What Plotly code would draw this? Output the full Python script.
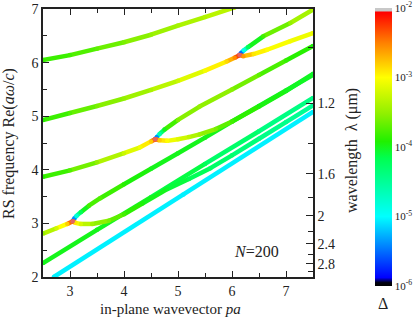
# RS frequency vs in-plane wavevector, N=200
# Branches are coloured by log10(Delta); each branch is drawn as short line
# segments (colour sampled from the colour scale) plus joint markers that
# feed the shared colour axis / colour bar.

import math
import plotly.graph_objects as go
from plotly.colors import sample_colorscale

# ---- data: x = pa, y = Re(a*omega/c), d = log10(Delta) ----
# top curve
A_X = [2.5, 3.0, 3.5, 4.0, 4.5, 5.0, 5.5, 6.05]
A_Y = [6.05, 6.14, 6.26, 6.38, 6.52, 6.69, 6.85, 7.03]
A_D = [-3.85, -3.8, -3.7, -3.6, -3.5, -3.42, -3.36, -3.3]

# curve running into the branch point near pa=6.14
B_X = [2.5, 3.0, 3.5, 4.0, 4.5, 5.0, 5.5, 5.9, 6.05, 6.14]
B_Y = [4.93, 5.06, 5.19, 5.33, 5.49, 5.66, 5.85, 6.02, 6.09, 6.14]
B_D = [-3.9, -3.75, -3.6, -3.5, -3.4, -3.25, -3.05, -2.85, -2.55, -2.05]

U2_X = [6.14, 6.17, 6.22, 6.3, 6.58, 7.08, 7.5]
U2_Y = [6.14, 6.18, 6.23, 6.29, 6.49, 6.74, 6.99]
U2_D = [-5.8, -5.5, -4.9, -4.2, -3.8, -3.5, -3.35]

L2_X = [6.14, 6.21, 6.4, 6.65, 7.08, 7.5]
L2_Y = [6.14, 6.12, 6.16, 6.24, 6.40, 6.55]
L2_D = [-2.3, -2.6, -2.9, -3.0, -3.05, -3.1]

# curve running into the branch point near pa=4.58
C_X = [2.5, 3.0, 3.5, 4.0, 4.3, 4.5, 4.58]
C_Y = [3.87, 3.99, 4.14, 4.31, 4.42, 4.53, 4.57]
C_D = [-3.9, -3.75, -3.5, -3.25, -3.05, -2.8, -2.05]

U3_X = [4.58, 4.61, 4.66, 4.75, 5.0, 5.4, 6.0, 6.5, 7.0, 7.5]
U3_Y = [4.57, 4.61, 4.67, 4.75, 4.93, 5.18, 5.50, 5.77, 6.04, 6.31]
U3_D = [-5.8, -5.4, -4.6, -4.0, -3.6, -3.5, -3.55, -3.7, -3.85, -3.95]

L3_X = [4.58, 4.66, 4.8, 5.0, 5.2, 5.4, 5.7, 6.0, 6.5, 7.0, 7.5]
L3_Y = [4.57, 4.55, 4.54, 4.57, 4.61, 4.66, 4.76, 4.90, 5.18, 5.47, 5.79]
L3_D = [-2.3, -2.8, -3.0, -3.15, -3.3, -3.45, -3.6, -3.8, -3.95, -4.0, -4.05]

# curve running into the branch point near pa=3.05
D_X = [2.5, 2.75, 2.95, 3.05]
D_Y = [2.81, 2.91, 2.99, 3.04]
D_D = [-3.5, -3.2, -2.8, -2.05]

U1_X = [3.05, 3.08, 3.12, 3.2, 3.35, 3.56, 4.0, 4.5, 5.0, 5.5, 6.0, 6.5, 7.0, 7.5]
U1_Y = [3.04, 3.09, 3.14, 3.21, 3.33, 3.47, 3.73, 4.02, 4.31, 4.60, 4.90, 5.19, 5.48, 5.77]
U1_D = [-5.8, -5.4, -4.8, -4.2, -3.8, -3.75, -3.9, -4.0, -4.0, -4.0, -4.0, -4.05, -4.05, -4.05]

L1_X = [3.05, 3.1, 3.2, 3.41, 3.72, 4.0, 4.34, 4.8, 5.2, 5.6, 6.0, 6.5, 7.0, 7.5]
L1_Y = [3.04, 3.01, 2.99, 2.99, 3.05, 3.17, 3.37, 3.64, 3.83, 4.03, 4.27, 4.58, 4.89, 5.20]
L1_D = [-2.3, -2.9, -3.2, -3.45, -3.6, -3.8, -3.95, -4.05, -4.15, -4.25, -4.3, -4.4, -4.45, -4.5]

# straight green line
G_X = [2.5, 3.5, 4.5, 5.5, 6.5, 7.5]
G_Y = [2.26, 2.88, 3.49, 4.11, 4.72, 5.34]
G_D = [-4.0, -4.0, -4.05, -4.2, -4.35, -4.45]

# straight cyan line
K_X = [2.7, 5.1, 7.5]
K_Y = [2.0, 3.54, 5.08]
K_D = [-5.05, -5.05, -5.05]

# right axis: wavelength in um (a = 1 um, lambda = 2*pi*a / freq)
LAM_MAJOR = [1.2, 1.6, 2.0, 2.4, 2.8]
LAM_LABELS = ["1.2", "1.6", "2", "2.4", "2.8"]
LAM_MINOR = [1.0, 1.4, 1.8, 2.2, 2.6, 3.0]

# colour bar decades
CB_VALS = [-6, -5, -4, -3, -2]
CB_TEXT = ["10<sup>-6</sup>", "10<sup>-5</sup>", "10<sup>-4</sup>",
           "10<sup>-3</sup>", "10<sup>-2</sup>"]

D_MIN, D_MAX = -6, -2
CSCALE = [
    [0.0, "#000000"], [0.012, "#000010"], [0.03, "#0000ff"],
    [0.25, "#00ffff"], [0.46, "#00ff50"], [0.52, "#20f000"],
    [0.62, "#90f000"], [0.75, "#ffff00"], [0.875, "#ff8000"],
    [0.985, "#ff0000"], [0.99, "#c8c8c8"], [1.0, "#c8c8c8"],
]

FONT = "Liberation Serif"
INK = "#222222"
LW = 4.5

# plot area in pixels (415 x 325 page)
L, R, T, B = 43, 102, 9, 48
PW, PH = 415 - L - R, 325 - T - B


def px(xp):
    return (xp - L) / PW


def py(yp):
    return 1 - (yp - T) / PH


fig = go.Figure()

# branches first, incoming curves last so the red branch points sit on top
curves = [
    (K_X, K_Y, K_D), (G_X, G_Y, G_D),
    (U1_X, U1_Y, U1_D), (L1_X, L1_Y, L1_D),
    (U3_X, U3_Y, U3_D), (L3_X, L3_Y, L3_D),
    (U2_X, U2_Y, U2_D), (L2_X, L2_Y, L2_D),
    (A_X, A_Y, A_D), (D_X, D_Y, D_D), (C_X, C_Y, C_D), (B_X, B_Y, B_D),
]

for cx, cy, cd in curves:
    for i in range(len(cx) - 1):
        mid = ((cd[i] + cd[i + 1]) / 2 - D_MIN) / (D_MAX - D_MIN)
        col = sample_colorscale(CSCALE, [mid])[0]
        fig.add_trace(go.Scatter(
            x=cx[i:i + 2], y=cy[i:i + 2], mode="lines",
            line=dict(color=col, width=LW), hoverinfo="skip",
        ))
    fig.add_trace(go.Scatter(
        x=cx, y=cy, mode="markers",
        marker=dict(size=LW, color=cd, coloraxis="coloraxis", line_width=0),
        hoverinfo="skip",
    ))

# invisible trace so the wavelength axis gets drawn
fig.add_trace(go.Scatter(x=[2.5], y=[2], yaxis="y2", mode="markers",
                         marker=dict(opacity=0), hoverinfo="skip"))

axis_common = dict(showgrid=False, zeroline=False, showline=True,
                   linecolor=INK, linewidth=1.5, ticks="inside",
                   tickcolor=INK, tickwidth=1.2,
                   tickfont=dict(family=FONT, size=14, color=INK))


def note(text, x, y, size, angle=0, xanchor="center"):
    return dict(text=text, x=px(x), y=py(y), xref="paper", yref="paper",
                xanchor=xanchor, yanchor="middle", showarrow=False,
                textangle=angle, font=dict(family=FONT, size=size, color=INK))


fig.update_layout(
    width=415, height=325,
    margin=dict(l=L, r=R, t=T, b=B, autoexpand=False),
    plot_bgcolor="white", paper_bgcolor="white",
    showlegend=False,
    font=dict(family=FONT, size=14, color=INK),
    xaxis=dict(range=[2.5, 7.5], tickvals=[3, 4, 5, 6, 7], ticklen=6,
               mirror="ticks",
               minor=dict(dtick=0.5, tick0=2.5, ticklen=4, ticks="inside",
                          tickcolor=INK), **axis_common),
    yaxis=dict(range=[2, 7], dtick=1, ticklen=6, mirror=True,
               minor=dict(dtick=0.5, tick0=2, ticklen=4, ticks="inside",
                          tickcolor=INK), **axis_common),
    yaxis2=dict(range=[2, 7], overlaying="y", side="right",
                tickmode="array",
                tickvals=[2 * math.pi / v for v in LAM_MAJOR],
                ticktext=LAM_LABELS, ticklen=7,
                minor=dict(tickmode="array",
                           tickvals=[2 * math.pi / v for v in LAM_MINOR],
                           ticklen=5, ticks="inside", tickcolor=INK),
                **axis_common),
    coloraxis=dict(
        cmin=D_MIN, cmax=D_MAX, colorscale=CSCALE,
        colorbar=dict(
            x=px(375), xanchor="left", xpad=0,
            y=py(147), yanchor="middle", ypad=0,
            thickness=17, len=278, lenmode="pixels",
            outlinewidth=0, ticks="",
            tickvals=CB_VALS, ticktext=CB_TEXT,
            tickfont=dict(family=FONT, size=11, color=INK),
        ),
    ),
    annotations=[
        note("in-plane wavevector <i>pa</i>", 170, 309, 15),
        note("RS frequency Re(<i>aω</i>/<i>c</i>)", 9, 144, 16, -90),
        note("wavelength  λ (μm)", 352, 151, 16, -90),
        note("Δ", 383, 303, 16),
        note("<i>N</i>=200", 281, 251, 16, xanchor="right"),
    ],
)

# page body has a default 8px margin; drop it so the figure sits at (0, 0)
fig.write_html("out.html", config={"displayModeBar": False},
               post_script="document.body.style.margin='0';")
